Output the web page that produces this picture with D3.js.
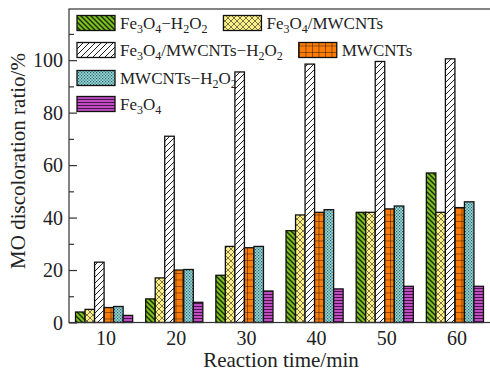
<!DOCTYPE html>
<html>
<head>
<meta charset="utf-8">
<script src="https://cdn.jsdelivr.net/npm/d3@7"></script>
<style>
  body { margin: 0; background: #fff; }
  svg { display: block; font-family: "Liberation Serif", "DejaVu Serif", serif; }
</style>
</head>
<body>
<div id="chart"></div>
<script>
// data
const times = ['10', '20', '30', '40', '50', '60'];
const fe3o4H2o2 = [4, 9, 18, 35, 42, 57];
const fe3o4Mwcnts = [5, 17, 29, 41, 42, 42];
const fe3o4MwcntsH2o2 = [23, 71, 95.5, 98.5, 99.5, 100.5];
const mwcnts = [5.7, 20, 28.5, 42, 43.3, 43.8];
const mwcntsH2o2 = [6.1, 20.2, 29, 43, 44.4, 46];
const fe3o4 = [2.7, 7.7, 12, 12.8, 13.8, 13.8];
const yTicks = [0, 20, 40, 60, 80, 100];
const yMinorTicks = [10, 30, 50, 70, 90, 110];

// label pieces: [text, subscript?]
const seriesNames = [
  [['Fe', 0], ['3', 1], ['O', 0], ['4', 1], ['\u2212H', 0], ['2', 1], ['O', 0], ['2', 1]],
  [['Fe', 0], ['3', 1], ['O', 0], ['4', 1], ['/MWCNTs', 0]],
  [['Fe', 0], ['3', 1], ['O', 0], ['4', 1], ['/MWCNTs\u2212H', 0], ['2', 1], ['O', 0], ['2', 1]],
  [['MWCNTs', 0]],
  [['MWCNTs\u2212H', 0], ['2', 1], ['O', 0], ['2', 1]],
  [['Fe', 0], ['3', 1], ['O', 0], ['4', 1]]
];
const seriesValues = [fe3o4H2o2, fe3o4Mwcnts, fe3o4MwcntsH2o2, mwcnts, mwcntsH2o2, fe3o4];
const patternIds = ['p-green', 'p-yellow', 'p-white', 'p-orange', 'p-cyan', 'p-purple'];
const legendRows = [[0, 1], [2, 3], [4], [5]];

const width = 490;
const height = 371;
const margin = { left: 69, right: 0, top: 9, bottom: 48.5 };

const svg = d3.select('#chart')
  .append('svg')
  .attr('width', width)
  .attr('height', height);

// fill patterns
const defs = svg.append('defs');

function pattern(id, w, h, bg) {
  const p = defs.append('pattern')
    .attr('id', id)
    .attr('patternUnits', 'userSpaceOnUse')
    .attr('width', w)
    .attr('height', h);
  p.append('rect').attr('width', w).attr('height', h).attr('fill', bg);
  return p;
}

let p = pattern('p-green', 5, 5, '#7dc21e');
p.append('path').attr('d', 'M-1,-1L6,6M-1,4L1,6M4,-1L6,1').attr('stroke', '#1a2a08').attr('stroke-width', 1.4);

p = pattern('p-yellow', 6, 6, '#fbef88');
p.append('path').attr('d', 'M0,0L6,6M6,0L0,6').attr('stroke', '#6b6540').attr('stroke-width', 0.9);

p = pattern('p-white', 6, 6, '#fff');
p.append('path').attr('d', 'M-1,7L7,-1M-1,1L1,-1M5,7L7,5').attr('stroke', '#222').attr('stroke-width', 1);

p = pattern('p-orange', 6.5, 6.5, '#fb7d08');
p.append('path').attr('d', 'M0,0H6.5M0,0V6.5').attr('stroke', '#2a1400').attr('stroke-width', 1);

p = pattern('p-cyan', 3, 3, '#95dadc');
p.append('rect').attr('width', 1.2).attr('height', 1.2).attr('fill', '#2f5c5e');
p.append('rect').attr('x', 1.5).attr('y', 1.5).attr('width', 1.2).attr('height', 1.2).attr('fill', '#2f5c5e');

p = pattern('p-purple', 3, 3, '#c04cc2');
p.append('path').attr('d', 'M0,0.5H3').attr('stroke', '#3b0f3c').attr('stroke-width', 0.9);

// scales
const xScale = d3.scaleBand()
  .domain(times)
  .range([margin.left, width - margin.right])
  .paddingInner(0.186)
  .paddingOuter(0.093);

const xSub = d3.scaleBand()
  .domain(d3.range(seriesValues.length))
  .range([0, xScale.bandwidth()]);

const yScale = d3.scaleLinear()
  .domain([0, 119.5])
  .range([height - margin.bottom, margin.top]);

// bars
seriesValues.forEach((vals, s) => {
  svg.append('g')
    .selectAll('rect')
    .data(vals)
    .enter()
    .append('rect')
    .attr('x', (d, i) => xScale(times[i]) + xSub(s))
    .attr('y', d => yScale(d))
    .attr('width', xSub.bandwidth())
    .attr('height', d => yScale(0) - yScale(d))
    .attr('fill', `url(#${patternIds[s]})`)
    .attr('stroke', '#111')
    .attr('stroke-width', 1.3);
});

// frame
svg.append('rect')
  .attr('x', margin.left)
  .attr('y', yScale.range()[1])
  .attr('width', width - margin.left + 5)
  .attr('height', yScale(0) - yScale.range()[1])
  .attr('fill', 'none')
  .attr('stroke', '#333')
  .attr('stroke-width', 1.2);

// y axis (ticks point inward)
const yAxis = d3.axisRight(yScale)
  .tickValues(yTicks)
  .tickSize(8)
  .tickFormat('');

svg.append('g')
  .attr('transform', `translate(${margin.left}, 0)`)
  .call(yAxis)
  .call(g => g.select('.domain').remove())
  .call(g => g.selectAll('line').attr('stroke', '#333').attr('stroke-width', 1.2));

svg.append('g')
  .attr('transform', `translate(${margin.left}, 0)`)
  .call(d3.axisRight(yScale).tickValues(yMinorTicks).tickSize(5).tickFormat(''))
  .call(g => g.select('.domain').remove())
  .call(g => g.selectAll('line').attr('stroke', '#333').attr('stroke-width', 1.2));

svg.append('g')
  .selectAll('text')
  .data(yTicks)
  .enter()
  .append('text')
  .attr('x', margin.left - 6)
  .attr('y', d => yScale(d))
  .attr('dy', '0.35em')
  .attr('text-anchor', 'end')
  .attr('font-size', 20)
  .attr('fill', '#222')
  .text(d => d);

// x tick labels
svg.append('g')
  .selectAll('text')
  .data(times)
  .enter()
  .append('text')
  .attr('x', d => xScale(d) + xScale.bandwidth() / 2 + 2)
  .attr('y', 345)
  .attr('text-anchor', 'middle')
  .attr('font-size', 20)
  .attr('fill', '#222')
  .text(d => d);

svg.append('text')
  .attr('x', 281)
  .attr('y', 367)
  .attr('text-anchor', 'middle')
  .attr('font-size', 21)
  .attr('fill', '#222')
  .text('Reaction time/min');

svg.append('text')
  .attr('transform', 'translate(25, 161) rotate(-90)')
  .attr('text-anchor', 'middle')
  .attr('font-size', 21)
  .attr('fill', '#222')
  .text('MO discoloration ratio/%');

// legend
const legend = svg.append('g');
const rowY = [23, 50, 78, 104];

legendRows.forEach((row, r) => {
  let x = 77;
  row.forEach(s => {
    legend.append('rect')
      .attr('x', x)
      .attr('y', rowY[r] - 7.5)
      .attr('width', 38)
      .attr('height', 15)
      .attr('fill', `url(#${patternIds[s]})`)
      .attr('stroke', '#111')
      .attr('stroke-width', 1.3);

    const t = legend.append('text')
      .attr('x', x + 43)
      .attr('y', rowY[r] + 6)
      .attr('font-size', 17)
      .attr('fill', '#222');
    seriesNames[s].forEach(([txt, sub]) => {
      const ts = t.append('tspan').text(txt);
      if (sub) ts.attr('font-size', 12).attr('dy', 4);
      else ts.attr('dy', 0);
    });
    // put baseline back after each subscript
    t.selectAll('tspan').each(function(d, i, nodes) {
      const prevSub = i > 0 && nodes[i - 1].getAttribute('font-size') === '12';
      const isSub = this.getAttribute('font-size') === '12';
      if (!isSub && prevSub) d3.select(this).attr('dy', -4);
    });
    x += 43 + t.node().getComputedTextLength() + 16;
  });
});
</script>
</body>
</html>
